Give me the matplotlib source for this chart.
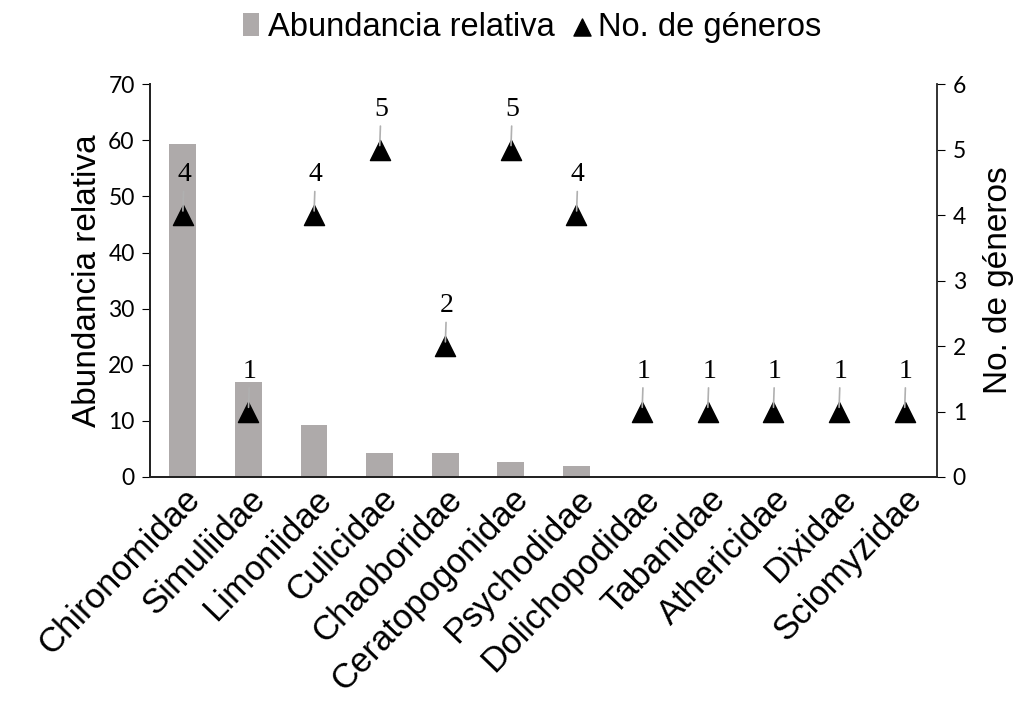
import numpy as np
import matplotlib.pyplot as plt

families = ["Chironomidae", "Simuliidae", "Limoniidae", "Culicidae", "Chaoboridae",
            "Ceratopogonidae", "Psychodidae", "Dolichopodidae", "Tabanidae",
            "Athericidae", "Dixidae", "Sciomyzidae"]
abundancia = [59.3, 17.0, 9.2, 4.3, 4.3, 2.6, 1.9, 0.15, 0.05, 0.05, 0.05, 0.05]
generos = [4, 1, 4, 5, 2, 5, 4, 1, 1, 1, 1, 1]

plt.rcParams['font.family'] = ['Liberation Sans', 'DejaVu Sans']

fig = plt.figure(figsize=(10.2, 7.14), dpi=100)
ax = fig.add_axes([0.147, 0.332, 0.772, 0.55])
ax2 = ax.twinx()

x = np.arange(len(families))
bars = ax.bar(x, abundancia, width=0.41, color='#aeaaaa', label='Abundancia relativa', zorder=1)
ax.set_ylim(0, 70)
ax.set_yticks(np.arange(0, 71, 10))
ax.set_xlim(-0.5, len(families) - 0.5)
ax.set_xticks(x)
ax.set_xticklabels(families, rotation=46, ha='right', rotation_mode='anchor', fontsize=25)
ax.tick_params(axis='x', length=0, pad=4)
ax.tick_params(axis='y', labelsize=16.5, direction='out', length=6, pad=5)
for t in ax.get_yticklabels():
    t.set_family('Lato')
ax.set_ylabel('Abundancia relativa', fontsize=24, labelpad=4)

pts = ax2.scatter(x, generos, marker='^', s=210, color='black', label='No. de géneros', zorder=3)
ax2.set_ylim(0, 6)
ax2.set_yticks(np.arange(0, 7, 1))
ax2.tick_params(axis='y', labelsize=16.5, direction='out', length=6, pad=5)
for t in ax2.get_yticklabels():
    t.set_family('Lato')
ax2.set_ylabel('No. de géneros', fontsize=24, labelpad=12)

for xi, g in zip(x, generos):
    ax2.annotate(str(g), xy=(xi, g), xytext=(1, 20), textcoords='offset points',
                 ha='center', va='bottom', fontsize=20, family='Liberation Serif',
                 arrowprops=dict(arrowstyle='-', color='#b0b0b0', lw=1.2,
                                 shrinkA=1, shrinkB=3))

for a in (ax, ax2):
    a.spines['top'].set_visible(False)
    for s in a.spines.values():
        s.set_linewidth(1.3)
        s.set_color('#222222')
ax.spines['right'].set_visible(False)

fig.legend(handles=[bars, pts], labels=['Abundancia relativa', 'No. de géneros'],
           loc='upper center', bbox_to_anchor=(0.522, 1.025), ncol=2, frameon=False,
           fontsize=23.5, handlelength=0.5, handletextpad=0.25, columnspacing=0.6,
           markerscale=0.85)

fig.savefig('out.png', dpi=100)
